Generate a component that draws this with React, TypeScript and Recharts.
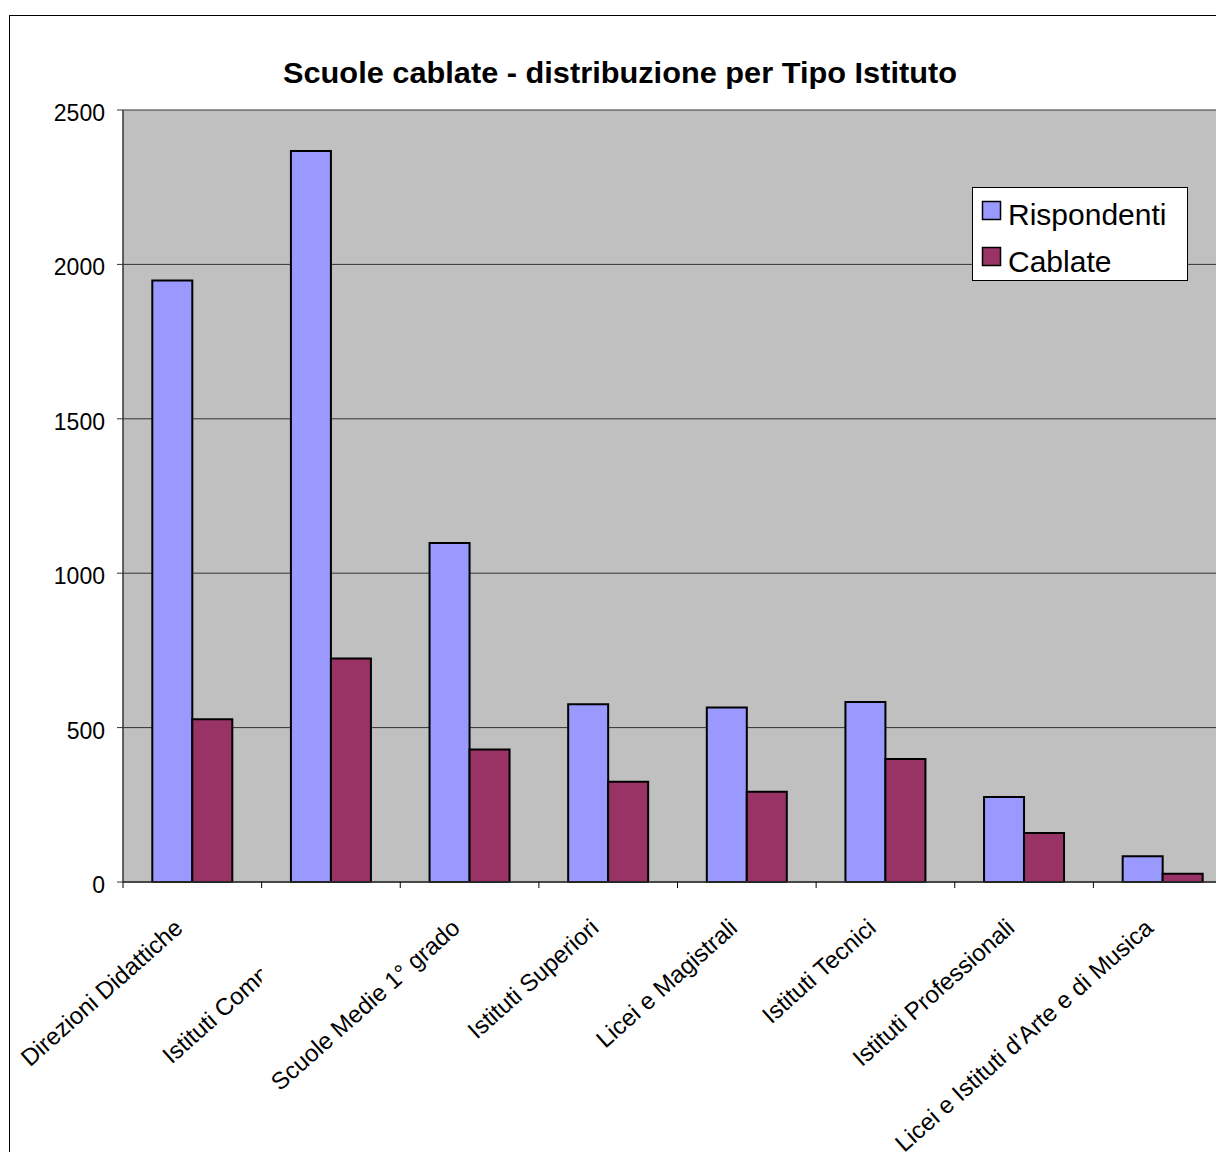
import React from "react";
import { BarChart, Bar, XAxis, YAxis, CartesianGrid, Legend } from "recharts";

const categories = [
  "Direzioni Didattiche",
  "Istituti Comprensivi",
  "Scuole Medie 1° grado",
  "Istituti Superiori",
  "Licei e Magistrali",
  "Istituti Tecnici",
  "Istituti Professionali",
  "Licei e Istituti d'Arte e di Musica",
];
const rispondenti = [1948, 2367, 1098, 576, 565, 583, 275, 83];
const cablate = [527, 724, 429, 325, 292, 398, 159, 27];
const yTicks = [0, 500, 1000, 1500, 2000, 2500];
const clippedCategory = "Istituti Comprensivi";
const titleText = "Scuole cablate - distribuzione per Tipo Istituto";

const data = categories.map((c, i) => ({ name: c, Rispondenti: rispondenti[i], Cablate: cablate[i] }));

const FONT = "'Liberation Sans', Arial, sans-serif";
const CHART_W = 1240;
const CHART_H = 1152;
const MARGIN = { top: 110, right: 8, left: 11, bottom: 70 };
const Y_W = 112;
const X_H = 200;
const PLOT_W = CHART_W - MARGIN.left - MARGIN.right - Y_W;
const BAND = PLOT_W / categories.length;
const COLORS = { Rispondenti: "#9999FF", Cablate: "#993366" };

const XTick = (props: any) => {
  const { x, y, payload } = props;
  const left = x - BAND / 2;
  const id = "clip-" + String(payload.index ?? payload.value).replace(/[^a-z0-9]/gi, "");
  const clipped = payload.value === clippedCategory;
  return (
    <g>
      <line x1={left} y1={y} x2={left} y2={y + 6} stroke="#000" strokeWidth={1} />
      {clipped && (
        <defs>
          <clipPath id={id}>
            <rect x={left - 1000} y={y - 100} width={1000} height={1000} />
          </clipPath>
        </defs>
      )}
      <g clipPath={clipped ? `url(#${id})` : undefined}>
        <g transform={`translate(${x - 8},${y + 48})`}>
          <text
            transform="rotate(-41.7)"
            textAnchor="end"
            fontFamily={FONT}
            fontSize={24}
            fill="#000"
          >
            {payload.value}
          </text>
        </g>
      </g>
    </g>
  );
};

const YTick = (props: any) => {
  const { x, y, payload } = props;
  return (
    <text x={x} y={y + 11} textAnchor="end" fontFamily={FONT} fontSize={23} fill="#000">
      {payload.value}
    </text>
  );
};

const LegendBox = () => (
  <svg width={216} height={94} style={{ display: "block" }}>
    <rect x={0.5} y={0.5} width={215} height={93} fill="#fff" stroke="#000" strokeWidth={1} />
    <rect x={10.5} y={14.5} width={18} height={18} fill={COLORS.Rispondenti} stroke="#000" strokeWidth={1.5} />
    <text x={36} y={38} fontFamily={FONT} fontSize={30} fill="#000">Rispondenti</text>
    <rect x={10.5} y={60.5} width={18} height={18} fill={COLORS.Cablate} stroke="#000" strokeWidth={1.5} />
    <text x={36} y={84.5} fontFamily={FONT} fontSize={30} fill="#000">Cablate</text>
  </svg>
);

export default function App() {
  return (
    <div style={{ position: "absolute", left: 0, top: 0, width: 1216, height: 1152, overflow: "hidden", background: "#fff" }}>
      <div style={{ position: "absolute", left: 9, top: 15, width: 1400, height: 1400, border: "1px solid #000" }} />
      <div style={{ position: "absolute", left: 0, top: 0 }}>
        <BarChart
          width={CHART_W}
          height={CHART_H}
          data={data}
          margin={MARGIN}
          barCategoryGap={29.3}
          barGap={0}
        >
          <CartesianGrid vertical={false} fill="#C0C0C0" stroke="#333" strokeWidth={1} fillOpacity={1} />
          <XAxis
            dataKey="name"
            height={X_H}
            interval={0}
            tickLine={false}
            tickSize={0}
            tickMargin={0}
            axisLine={{ stroke: "#333", strokeWidth: 1.5 }}
            tick={<XTick />}
          />
          <YAxis
            width={Y_W}
            domain={[0, 2500]}
            ticks={yTicks}
            interval={0}
            tickSize={6}
            tickMargin={12}
            tickLine={{ stroke: "#333" }}
            axisLine={{ stroke: "#333", strokeWidth: 1.5 }}
            tick={<YTick />}
          />
          <Legend
            layout="vertical"
            align="center"
            verticalAlign="middle"
            wrapperStyle={{ left: 972, top: 187, width: 216, height: 94 }}
            content={() => <LegendBox />}
          />
          <Bar dataKey="Rispondenti" fill={COLORS.Rispondenti} stroke="#000" strokeWidth={2} isAnimationActive={false} />
          <Bar dataKey="Cablate" fill={COLORS.Cablate} stroke="#000" strokeWidth={2} isAnimationActive={false} />
        </BarChart>
      </div>
      <svg width={1216} height={120} style={{ position: "absolute", left: 0, top: 0, pointerEvents: "none" }}>
        <text
          x={620}
          y={83}
          textAnchor="middle"
          fontFamily={FONT}
          fontWeight="bold"
          fontSize={30}
          textLength={674}
          lengthAdjust="spacingAndGlyphs"
          fill="#000"
        >
          {titleText}
        </text>
      </svg>
    </div>
  );
}
